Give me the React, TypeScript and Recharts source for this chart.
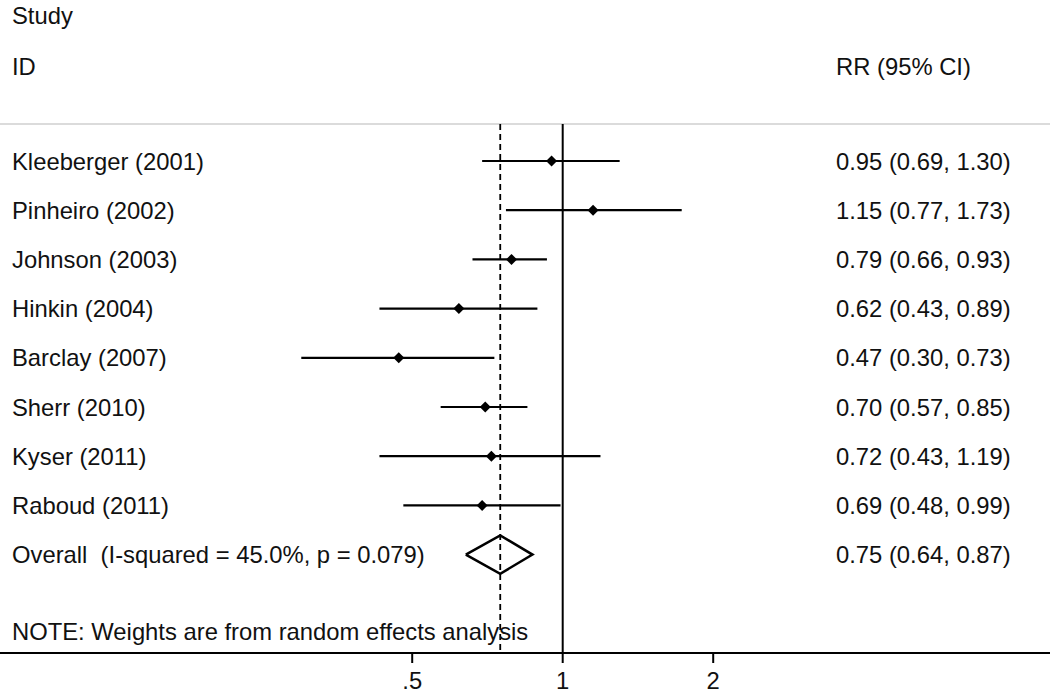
import React from "react";
import { ComposedChart, ReferenceLine, Scatter, XAxis, YAxis } from "recharts";

const studies = [
  "Kleeberger (2001)",
  "Pinheiro (2002)",
  "Johnson (2003)",
  "Hinkin (2004)",
  "Barclay (2007)",
  "Sherr (2010)",
  "Kyser (2011)",
  "Raboud (2011)",
];
const rr = [0.95, 1.15, 0.79, 0.62, 0.47, 0.7, 0.72, 0.69];
const lower = [0.69, 0.77, 0.66, 0.43, 0.3, 0.57, 0.43, 0.48];
const upper = [1.3, 1.73, 0.93, 0.89, 0.73, 0.85, 1.19, 0.99];

const overallLabel = "Overall  (I-squared = 45.0%, p = 0.079)";
const overallRR = 0.75;
const overallLower = 0.64;
const overallUpper = 0.87;

const noteText = "NOTE: Weights are from random effects analysis";
const xTicks = [0.5, 1, 2];
const xTickLabels = [".5", "1", "2"];

// layout (row units on the y axis, pixels elsewhere)
const W = 1050;
const H = 697;
const AXIS_Y = 653;
const ROW0_PX = 161;
const ROW_PX = 49.2;
const ONE_PX = 562.7;
const DOUBLING_PX = 150.5;
const yTop = 1 - ROW0_PX / ROW_PX;
const yBottom = 1 + (AXIS_Y - ROW0_PX) / ROW_PX;
const xMin = Math.pow(2, -ONE_PX / DOUBLING_PX);
const xMax = Math.pow(2, (W - ONE_PX) / DOUBLING_PX);
const LINE_ROW = 0.248;
const DIAMOND_HALF = 0.39;
const FONT = '"Liberation Sans", Arial, Helvetica, sans-serif';
const FS = 23.8;

const overallRow = studies.length + 1;

const points = studies.map((s, i) => ({ x: rr[i], y: i + 1 }));
const ciSegments = studies.map((s, i) => [
  { x: lower[i], y: i + 1 },
  { x: upper[i], y: i + 1 },
]);

const diamond = [
  { x: overallLower, y: overallRow },
  { x: overallRR, y: overallRow - DIAMOND_HALF },
  { x: overallUpper, y: overallRow },
  { x: overallRR, y: overallRow + DIAMOND_HALF },
  { x: overallLower, y: overallRow },
];

const ci = (a: number, b: number, c: number) => `${a.toFixed(2)} (${b.toFixed(2)}, ${c.toFixed(2)})`;

const rows = [
  { x: 1, y: -1.957, left: "Study", right: "" },
  { x: 1, y: -0.911, left: "ID", right: "RR (95% CI)" },
  ...studies.map((s, i) => ({ x: 1, y: i + 1, left: s, right: ci(rr[i], lower[i], upper[i]) })),
  { x: 1, y: overallRow, left: overallLabel, right: ci(overallRR, overallLower, overallUpper) },
  { x: 1, y: 10.553, left: noteText, right: "" },
];

const textStyle = { whiteSpace: "pre" as const };

function RowText(props: any) {
  const { cy, payload } = props;
  return (
    <g>
      <text x={12} y={cy + 8.5} fontSize={FS} fontFamily={FONT} fill="#111" style={textStyle}>
        {payload.left}
      </text>
      {payload.right && (
        <text x={836} y={cy + 8.5} fontSize={FS} fontFamily={FONT} fill="#111" style={textStyle}>
          {payload.right}
        </text>
      )}
    </g>
  );
}

function XTick(props: any) {
  const { x, y, payload } = props;
  const i = xTicks.indexOf(payload.value);
  return (
    <text x={x} y={y + 24} textAnchor="middle" fontSize={FS} fontFamily={FONT} fill="#111">
      {i >= 0 ? xTickLabels[i] : payload.value}
    </text>
  );
}

function Marker(props: any) {
  const { cx, cy } = props;
  const r = 5.5;
  return <polygon points={`${cx - r},${cy} ${cx},${cy - r} ${cx + r},${cy} ${cx},${cy + r}`} fill="#000" />;
}

export default function App() {
  return (
    <div style={{ position: "absolute", left: 0, top: 0, background: "#fff" }}>
      <ComposedChart width={W} height={H} margin={{ top: 0, right: 0, bottom: 0, left: 0 }}>
        <XAxis
          dataKey="x"
          type="number"
          scale="log"
          domain={[xMin, xMax]}
          allowDataOverflow
          ticks={xTicks}
          interval={0}
          height={H - AXIS_Y}
          axisLine={{ stroke: "#000", strokeWidth: 2 }}
          tickLine={{ stroke: "#000", strokeWidth: 2 }}
          tickSize={10}
          tick={<XTick />}
        />
        <YAxis dataKey="y" type="number" reversed domain={[yTop, yBottom]} allowDataOverflow hide />
        <ReferenceLine y={LINE_ROW} stroke="#cfcfcf" strokeWidth={1.5} />
        <ReferenceLine
          segment={[
            { x: 1, y: LINE_ROW },
            { x: 1, y: yBottom },
          ]}
          stroke="#000"
          strokeWidth={2}
        />
        <ReferenceLine
          segment={[
            { x: overallRR, y: LINE_ROW },
            { x: overallRR, y: yBottom },
          ]}
          stroke="#000"
          strokeWidth={1.8}
          strokeDasharray="6 4"
        />
        {ciSegments.map((seg, i) => (
          <Scatter
            key={i}
            data={seg}
            dataKey="y"
            line={{ stroke: "#000", strokeWidth: 2.2 }}
            lineType="joint"
            shape={() => <g />}
            isAnimationActive={false}
          />
        ))}
        <Scatter data={points} dataKey="y" shape={<Marker />} isAnimationActive={false} />
        <Scatter
          data={diamond}
          dataKey="y"
          line={{ stroke: "#000", strokeWidth: 2.5 }}
          lineType="joint"
          shape={() => <g />}
          isAnimationActive={false}
        />
        <Scatter data={rows} dataKey="y" shape={<RowText />} isAnimationActive={false} />
      </ComposedChart>
    </div>
  );
}
